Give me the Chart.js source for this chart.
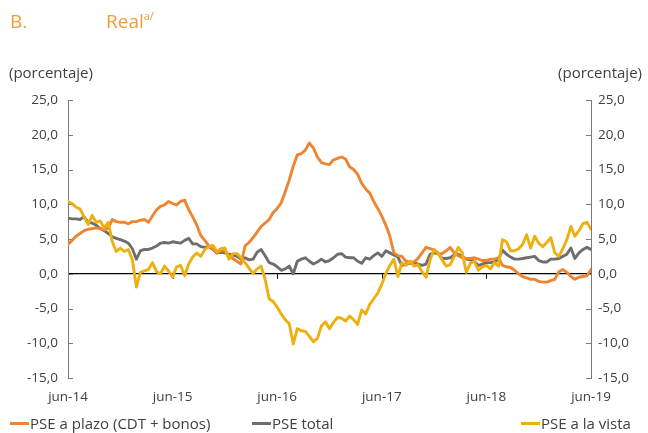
<!DOCTYPE html>
<html lang="es">
<head>
<meta charset="utf-8">
<script src="https://cdn.jsdelivr.net/npm/chart.js@4.4.1/dist/chart.umd.min.js"></script>
<style>
  html, body { margin: 0; padding: 0; background: #fff; }
  #wrap { position: relative; width: 648px; height: 433px; font-family: "Open Sans", "Noto Sans", sans-serif; color: #404040; }
  #chart { position: absolute; left: 0; top: 0; }
  .txt { position: absolute; white-space: nowrap; }
  .title { color: #F39C3A; font-size: 19px; top: 8px; }
  .title sup { font-size: 11px; vertical-align: 0; position: relative; top: -8px; }
  .unit { font-size: 15px; top: 62px; }
  .leg { position: absolute; top: 413px; font-size: 15px; white-space: nowrap; display: flex; align-items: center; }
  .leg i { display: inline-block; width: 19px; height: 3px; margin-right: 1px; }
</style>
</head>
<body>
<div id="wrap">
  <canvas id="chart" width="648" height="433"></canvas>
  <div class="txt title" style="left:10px">B.</div>
  <div class="txt title" style="left:106px">Real<sup>a/</sup></div>
  <div class="txt unit" style="left:9px">(porcentaje)</div>
  <div class="txt unit" style="right:6px">(porcentaje)</div>
  <div class="leg" style="left:10px"><i style="background:#EE8532"></i>PSE a plazo (CDT + bonos)</div>
  <div class="leg" style="left:252px"><i style="background:#6E6E6E"></i>PSE total</div>
  <div class="leg" style="left:521px"><i style="background:#EDB00F"></i>PSE a la vista</div>
</div>
<script>
// Biweekly real growth rates (%), June 2014 to June 2019
const xTickLabels = ["jun-14", "jun-15", "jun-16", "jun-17", "jun-18", "jun-19"];
const weeksPerTick = 26;

const pseAPlazo = [
  4.2, 4.8, 5.4, 5.8, 6.2, 6.4, 6.5, 6.6, 6.5, 6.3,
  6.6, 7.8, 7.5, 7.4, 7.4, 7.2, 7.5, 7.5, 7.7, 7.8,
  7.4, 8.3, 9.2, 9.7, 9.9, 10.4, 10.1, 9.9, 10.4, 10.6,
  9.2, 8.2, 7.0, 5.5, 4.8, 4.0, 3.6, 3.0, 3.3, 3.3,
  2.6, 2.2, 1.8, 1.4, 4.0, 4.5, 5.2, 6.0, 6.8, 7.3,
  7.8, 8.8, 9.4, 10.2, 11.8, 13.5, 15.5, 17.1, 17.3, 17.8,
  18.8, 18.1, 16.8, 16.0, 15.8, 15.7, 16.4, 16.6, 16.8, 16.5,
  15.4, 15.0, 14.3, 13.0, 12.2, 11.6, 10.4, 9.4, 8.3, 7.0,
  5.4, 3.0, 2.6, 2.5, 1.8, 1.7, 1.7, 2.2, 3.0, 3.8,
  3.6, 3.4, 2.9, 2.9, 3.3, 3.8, 3.0, 2.6, 2.3, 2.2,
  2.2, 2.3, 2.1, 1.9, 1.9, 2.1, 2.1, 2.3, 1.2, 1.0,
  0.9, 0.5, 0.0, -0.4, -0.6, -0.8, -0.8, -1.1, -1.2, -1.2,
  -1.0, -0.8, 0.3, 0.6, 0.2, -0.4, -0.8, -0.5, -0.4, -0.3,
  0.6
];

const pseTotal = [
  8.0, 7.9, 7.9, 7.8, 8.2, 7.4, 7.3, 7.0, 6.5, 6.2,
  5.8, 5.3, 5.1, 4.9, 4.7, 4.4, 3.6, 2.1, 3.3, 3.5,
  3.5, 3.7, 4.0, 4.4, 4.5, 4.4, 4.6, 4.5, 4.4, 4.8,
  5.1, 4.3, 4.3, 3.9, 3.8, 3.9, 3.5, 3.0, 3.1, 3.0,
  2.8, 2.7, 2.5, 2.1, 2.3, 2.0, 2.1, 3.1, 3.5, 2.6,
  1.6, 1.4, 1.0, 0.5, 0.7, 1.1, 0.0, 1.8, 2.1, 2.3,
  1.8, 1.4, 1.7, 2.1, 1.7, 1.9, 2.3, 2.8, 2.9, 2.4,
  2.3, 2.3, 1.8, 1.5, 2.3, 2.1, 2.6, 3.0, 2.5, 3.3,
  3.0, 2.7, 2.4, 1.2, 1.4, 1.5, 1.6, 1.4, 1.2, 1.4,
  2.8, 3.0, 2.9, 2.2, 2.2, 2.3, 2.7, 2.8, 2.5, 2.1,
  2.0, 1.8, 1.2, 1.4, 1.6, 1.6, 1.7, 2.1, 3.4, 2.8,
  2.4, 2.1, 2.1, 2.2, 2.3, 2.4, 2.5, 1.9, 1.7, 1.7,
  2.1, 2.1, 2.2, 2.5, 2.8, 3.7, 2.2, 3.0, 3.5, 3.8,
  3.5
];

const pseALaVista = [
  10.4, 10.1, 9.6, 9.3, 8.2, 7.1, 8.4, 7.4, 7.6, 6.6,
  7.4, 4.6, 3.2, 3.7, 3.2, 3.5, 2.0, -1.9, 0.2, 0.4,
  0.6, 1.6, 0.3, 0.0, 1.1, 0.4, -0.5, 1.0, 1.2, -0.3,
  1.4, 2.4, 3.0, 2.5, 3.5, 3.9, 4.1, 3.2, 3.6, 3.7,
  2.1, 2.9, 2.9, 2.3, 1.6, 0.8, 0.0, 0.7, 1.1, -0.8,
  -3.6, -4.0, -4.8, -5.8, -6.6, -7.2, -10.1, -7.9, -8.2, -8.3,
  -9.0, -9.8, -9.3, -7.5, -6.9, -7.9, -7.0, -6.3, -6.4, -6.8,
  -6.1, -6.6, -7.3, -5.2, -5.8, -4.4, -3.6, -2.8, -1.5, 0.0,
  1.2, 2.1, -0.4, 1.6, 1.2, 1.8, 1.1, 1.3, 0.3, -0.5,
  2.0, 3.5, 3.0, 2.0, 1.1, 1.3, 2.5, 3.8, 3.0, 0.2,
  1.5, 1.8, 0.5, 1.0, 1.2, 0.7, 1.6, 1.1, 4.9, 4.6,
  3.3, 3.3, 3.6, 4.2, 5.6, 3.7, 5.4, 4.4, 3.9, 4.5,
  5.2, 3.0, 2.5, 3.6, 4.9, 6.8, 5.4, 6.2, 7.2, 7.4,
  6.4
];

const toPoints = arr => arr.map((v, i) => ({ x: i, y: v }));
const lastIndex = pseTotal.length - 1;

// Axis lines, inward tick marks and the category ticks hanging from the zero line
const axisMarks = {
  id: 'axisMarks',
  beforeDatasetsDraw(chart) {
    const { ctx, chartArea, scales } = chart;
    const y = scales.y, x = scales.x;
    ctx.save();
    ctx.lineWidth = 1;
    ctx.strokeStyle = '#7a7a7a';
    y.ticks.forEach(t => {
      const py = Math.round(y.getPixelForValue(t.value)) + 0.5;
      ctx.beginPath();
      ctx.moveTo(chartArea.left, py);
      ctx.lineTo(chartArea.left + 5, py);
      ctx.moveTo(chartArea.right - 5, py);
      ctx.lineTo(chartArea.right, py);
      ctx.stroke();
    });
    const y0 = y.getPixelForValue(0);
    ctx.strokeStyle = '#000';
    x.ticks.forEach(t => {
      const px = Math.round(x.getPixelForValue(t.value)) + 0.5;
      if (t.value === 0 || t.value === lastIndex) return;
      ctx.beginPath();
      ctx.moveTo(px, y0);
      ctx.lineTo(px, y0 + 5);
      ctx.stroke();
    });
    ctx.restore();
  }
};

const tickFont = { family: '"Open Sans", "Noto Sans", sans-serif', size: 13.5 };
const fmt = v => v.toFixed(1).replace('.', ',');

new Chart(document.getElementById('chart'), {
  type: 'line',
  data: {
    datasets: [
      { label: 'PSE a la vista', data: toPoints(pseALaVista), borderColor: '#EDB00F', order: 1 },
      { label: 'PSE a plazo (CDT + bonos)', data: toPoints(pseAPlazo), borderColor: '#EE8532', order: 2 },
      { label: 'PSE total', data: toPoints(pseTotal), borderColor: '#6E6E6E', order: 3 }
    ]
  },
  options: {
    responsive: false,
    animation: false,
    events: [],
    elements: {
      point: { radius: 0 },
      line: { borderWidth: 2.9, tension: 0, borderJoinStyle: 'round', borderCapStyle: 'round', fill: false }
    },
    layout: { padding: { top: 100, left: 0, right: 0, bottom: 0 } },
    plugins: { legend: { display: false }, tooltip: { enabled: false } },
    scales: {
      x: {
        type: 'linear',
        min: 0,
        max: lastIndex,
        grid: { display: false },
        border: { display: false },
        ticks: {
          stepSize: weeksPerTick,
          autoSkip: false,
          maxRotation: 0,
          padding: 3,
          color: '#404040',
          font: tickFont,
          callback: v => xTickLabels[Math.round(v / weeksPerTick)]
        },
        afterFit: s => { s.height = 55; }
      },
      y: {
        position: 'left',
        min: -15,
        max: 25,
        grid: {
          drawTicks: false,
          color: c => (c.tick && c.tick.value === 0 ? '#000' : 'rgba(0,0,0,0)'),
          lineWidth: c => (c.tick && c.tick.value === 0 ? 1.3 : 0)
        },
        border: { display: true, color: '#7a7a7a', width: 1 },
        ticks: { stepSize: 5, padding: 10, color: '#404040', font: tickFont, callback: fmt },
        afterFit: s => { s.width = 68; }
      },
      y2: {
        position: 'right',
        min: -15,
        max: 25,
        grid: { display: false, drawTicks: false },
        border: { display: true, color: '#7a7a7a', width: 1 },
        ticks: { stepSize: 5, padding: 7, color: '#404040', font: tickFont, callback: fmt },
        afterFit: s => { s.width = 57; }
      }
    }
  },
  plugins: [axisMarks]
});
</script>
</body>
</html>
